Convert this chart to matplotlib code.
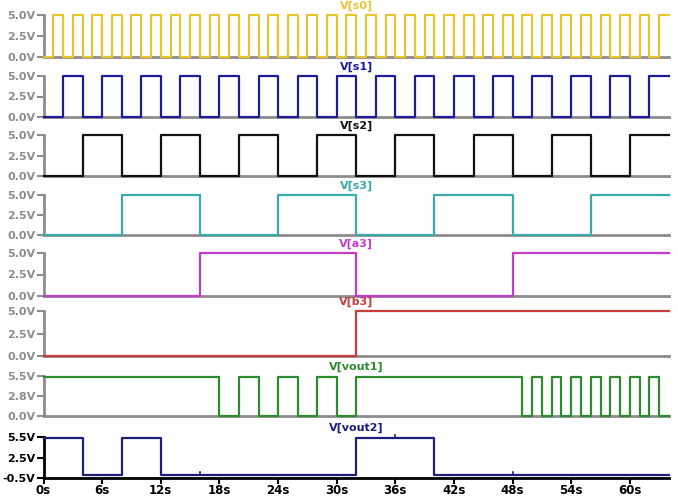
import matplotlib
matplotlib.use("Agg")
import matplotlib.pyplot as plt
import numpy as np

# logic levels per 1 s slot (0s .. 63s)
s0_bits = "0101010101010101010101010101010101010101010101010101010101010101"
s1_bits = "0011001100110011001100110011001100110011001100110011001100110011"
s2_bits = "0000111100001111000011110000111100001111000011110000111100001111"
s3_bits = "0000000011111111000000001111111100000000111111110000000011111111"
a3_bits = "0000000000000000111111111111111100000000000000001111111111111111"
b3_bits = "0000000000000000000000000000000011111111111111111111111111111111"
vout1_bits = "1111111111111111110011001100110011111111111111111010101010101010"
vout2_bits = "1111000011110000000000000000000011111111000000000000000000000000"

names = ["V[s0]", "V[s1]", "V[s2]", "V[s3]", "V[a3]", "V[b3]", "V[vout1]", "V[vout2]"]
bits = [s0_bits, s1_bits, s2_bits, s3_bits, a3_bits, b3_bits, vout1_bits, vout2_bits]
high_v = [5.0, 5.0, 5.0, 5.0, 5.0, 5.0, 5.3, 5.35]
colors = ["#e5c530", "#1c1c96", "#111111", "#3aaaaa", "#c23ccc", "#c83c3c", "#2e8a2e", "#1e1e7a"]
ylims = [(0, 5), (0, 5), (0, 5), (0, 5), (0, 5), (0, 5), (0, 5.5), (-0.5, 5.5)]
yticks = [[0, 2.5, 5], [0, 2.5, 5], [0, 2.5, 5], [0, 2.5, 5], [0, 2.5, 5], [0, 2.5, 5],
          [0, 2.75, 5.5], [-0.5, 2.5, 5.5]]

# small glitches on vout2
glitch_t = [16, 36, 48]
glitch_h = 0.45

xticks = [0, 6, 12, 18, 24, 30, 36, 42, 48, 54, 60]

# panel tops / bottoms in pixels (from top of image)
tops = [15, 76, 135, 195, 253, 311, 376, 437]
bottoms = [57, 117, 176, 235, 296, 356, 416, 478]

W, H = 678, 499
fig = plt.figure(figsize=(W / 100, H / 100), dpi=100)
fig.patch.set_facecolor("white")

left_px, right_px = 43.5, 669
font = ["Liberation Sans Narrow", "DejaVu Sans"]
gray = "#8c8c8c"

for i in range(8):
    ax = fig.add_axes([left_px / W, 1 - bottoms[i] / H,
                       (right_px - left_px) / W, (bottoms[i] - tops[i]) / H])
    t = np.arange(len(bits[i]) + 1)
    lv = [int(c) for c in bits[i]]
    lv.append(lv[-1])
    v = np.array(lv) * high_v[i]
    ax.step(t, v, where="post", color=colors[i], lw=1.6, clip_on=False, zorder=3)
    if i == 7:
        for g in glitch_t:
            base = v[g]
            ax.plot([g, g], [base, base + glitch_h], color=colors[i], lw=1.2,
                    clip_on=False, zorder=3)

    ax.set_xlim(0, 64)
    ax.set_ylim(*ylims[i])
    ax.set_facecolor("none")
    for s in ["top", "right"]:
        ax.spines[s].set_visible(False)

    last = i == 7
    sc = "black" if last else gray
    ax.spines["left"].set_color(sc)
    ax.spines["bottom"].set_color(sc)
    ax.spines["left"].set_linewidth(2)
    ax.spines["bottom"].set_linewidth(2)
    ax.spines["bottom"].set_zorder(1)

    ax.set_yticks(yticks[i])
    ax.set_yticklabels([f"{y:.1f}V" for y in yticks[i]], fontfamily=font,
                       fontsize=8, fontweight="bold", color=sc)
    ax.tick_params(axis="y", direction="out", length=5, width=1.5, color=sc, pad=1)

    if last:
        ax.set_xticks(xticks)
        ax.set_xticklabels([f"{x}s" for x in xticks], fontfamily=font,
                           fontsize=8.5, fontweight="bold", color="black")
        ax.tick_params(axis="x", direction="out", length=4, width=1.5, color="black", pad=0.5)
    else:
        ax.set_xticks([])

    fig.text((left_px + 32 * (right_px - left_px) / 64) / W, 1 - (tops[i] - 9) / H, names[i],
             ha="center", va="center", color=colors[i], fontfamily=font,
             fontsize=8, fontweight="bold")

fig.savefig("out.png", dpi=100, facecolor="white")
